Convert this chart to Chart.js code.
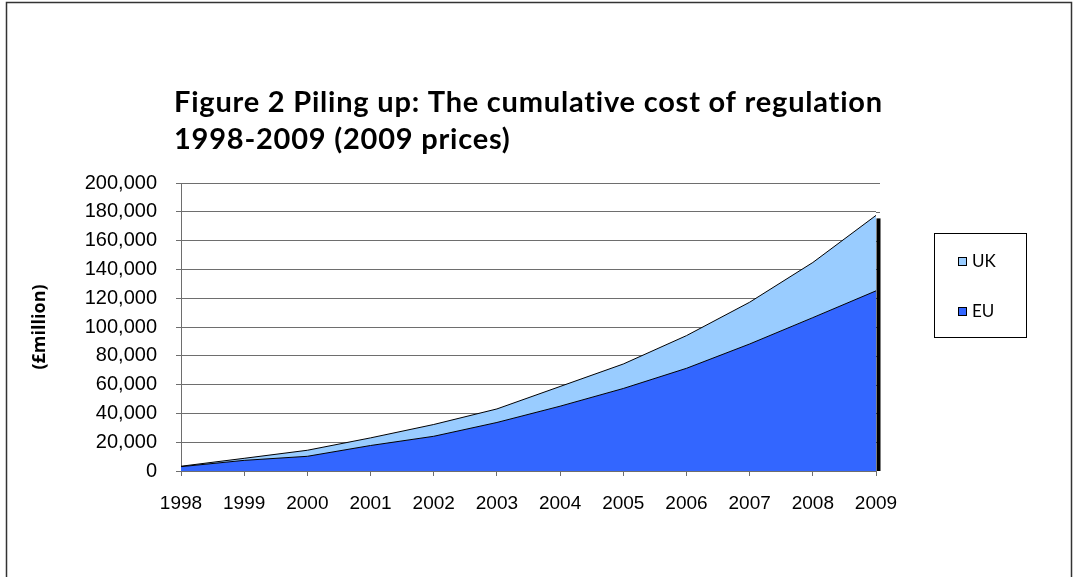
<!DOCTYPE html>
<html>
<head>
<meta charset="utf-8">
<script src="https://cdn.jsdelivr.net/npm/chart.js@4/dist/chart.umd.min.js"></script>
<style>
  html, body { margin: 0; padding: 0; background: #ffffff; }
  #wrap { width: 1074px; height: 577px; position: relative; overflow: hidden; }
</style>
</head>
<body>
<div id="wrap"><canvas id="c" width="1074" height="577"></canvas></div>
<script>
// ---- data ----
const years = ['1998','1999','2000','2001','2002','2003','2004','2005','2006','2007','2008','2009'];
const euValues = [3000, 7400, 10200, 17700, 24100, 33700, 45000, 57300, 71300, 88200, 106500, 125100];
const ukValues = [300, 1400, 4200, 5300, 8200, 9400, 13700, 17000, 22700, 29000, 38300, 52400];
const yMin = 0;
const yMax = 200000;
const yStep = 20000;
const titleLines = ['Figure 2 Piling up: The cumulative cost of regulation', '1998-2009 (2009 prices)'];
const yAxisTitle = '(£million)';
const seriesNames = { uk: 'UK', eu: 'EU' };
const colours = { eu: '#3366FF', uk: '#99CCFF', line: '#000000', grid: '#6e6e6e' };

const decorPlugin = {
  id: 'decor',
  beforeDraw(chart) {
    const ctx = chart.ctx;
    ctx.save();
    ctx.fillStyle = '#ffffff';
    ctx.fillRect(0, 0, chart.width, chart.height);
    ctx.restore();
  },
  afterDraw(chart) {
    const ctx = chart.ctx;
    const xs = chart.scales.x, ys = chart.scales.y;
    ctx.save();
    // short extension of the horizontal gridlines past the last category
    ctx.strokeStyle = colours.grid;
    ctx.lineWidth = 1;
    ys.ticks.forEach(t => {
      if (t.value === 0) return;
      const py = Math.round(ys.getPixelForValue(t.value)) + 0.5;
      ctx.beginPath();
      ctx.moveTo(chart.chartArea.right, py);
      ctx.lineTo(chart.chartArea.right + 4, py);
      ctx.stroke();
    });
    // shadow edge on the right of the last point
    const last = years.length - 1;
    const xl = xs.getPixelForValue(last);
    const yt = ys.getPixelForValue(euValues[last] + ukValues[last]);
    const yb = ys.getPixelForValue(0);
    ctx.fillStyle = '#000000';
    ctx.fillRect(xl + 0.5, yt + 3, 4, yb - yt - 3);

    // outer frame
    ctx.strokeStyle = '#333333';
    ctx.lineWidth = 1.5;
    ctx.strokeRect(6.5, 2.5, 1065, 640);

    // title
    ctx.fillStyle = '#000000';
    ctx.textBaseline = 'alphabetic';
    ctx.textAlign = 'left';
    ctx.font = "bold 29px Lato";
    const targetW = 709;
    const w0 = ctx.measureText(titleLines[0]).width;
    const sp = (targetW - w0) / (titleLines[0].length - 1);
    try { ctx.letterSpacing = sp.toFixed(2) + 'px'; } catch (e) {}
    ctx.fillText(titleLines[0], 174, 112);
    ctx.fillText(titleLines[1], 174, 149);
    try { ctx.letterSpacing = '0px'; } catch (e) {}

    // legend
    ctx.strokeStyle = '#000000';
    ctx.lineWidth = 1;
    ctx.strokeRect(934.5, 233.5, 92, 104);
    const items = [
      { label: seriesNames.uk, color: colours.uk, y: 261 },
      { label: seriesNames.eu, color: colours.eu, y: 311 }
    ];
    ctx.font = "17px Lato";
    ctx.textBaseline = 'middle';
    items.forEach(it => {
      ctx.fillStyle = it.color;
      ctx.fillRect(958, it.y - 4, 9, 9);
      ctx.strokeStyle = '#000000';
      ctx.strokeRect(958.5, it.y - 3.5, 8, 8);
      ctx.fillStyle = '#000000';
      ctx.fillText(it.label, 972, it.y + 1);
    });
    ctx.restore();
  }
};

const ctx = document.getElementById('c').getContext('2d');
new Chart(ctx, {
  type: 'line',
  data: {
    labels: years,
    datasets: [
      {
        label: seriesNames.eu,
        data: euValues,
        backgroundColor: colours.eu,
        borderColor: colours.line,
        borderWidth: 1,
        fill: 'origin',
        pointRadius: 0,
        tension: 0
      },
      {
        label: seriesNames.uk,
        data: ukValues,
        backgroundColor: colours.uk,
        borderColor: colours.line,
        borderWidth: 1,
        fill: '-1',
        pointRadius: 0,
        tension: 0
      }
    ]
  },
  options: {
    responsive: false,
    animation: false,
    devicePixelRatio: 1,
    layout: { padding: { left: 0, right: 198, top: 183, bottom: 0 } },
    plugins: {
      legend: { display: false },
      title: { display: false },
      tooltip: { enabled: false }
    },
    scales: {
      x: {
        type: 'category',
        offset: false,
        grid: { drawOnChartArea: false, drawTicks: true, tickLength: 5, color: colours.grid, lineWidth: 1 },
        border: { display: true, color: colours.grid, width: 1 },
        ticks: {
          color: '#000000',
          font: { family: "'Liberation Sans', Arial, sans-serif", size: 19 },
          padding: 16,
          maxRotation: 0,
          autoSkip: false
        },
        afterFit(scale) { scale.height = 106; }
      },
      y: {
        stacked: true,
        min: yMin,
        max: yMax,
        grid: { color: colours.grid, lineWidth: 1, drawTicks: true, tickLength: 5 },
        border: { display: true, color: colours.grid, width: 1 },
        ticks: {
          stepSize: yStep,
          color: '#000000',
          font: { family: "'Liberation Sans', Arial, sans-serif", size: 20 },
          padding: 19,
          callback: v => v.toLocaleString('en-US')
        },
        title: {
          display: true,
          text: yAxisTitle,
          color: '#000000',
          font: { family: "'Open Sans', sans-serif", size: 18, weight: 'bold' },
          padding: { top: 29, bottom: 0 }
        },
        afterFit(scale) { scale.width = 181; }
      }
    }
  },
  plugins: [decorPlugin]
});
</script>
</body>
</html>
